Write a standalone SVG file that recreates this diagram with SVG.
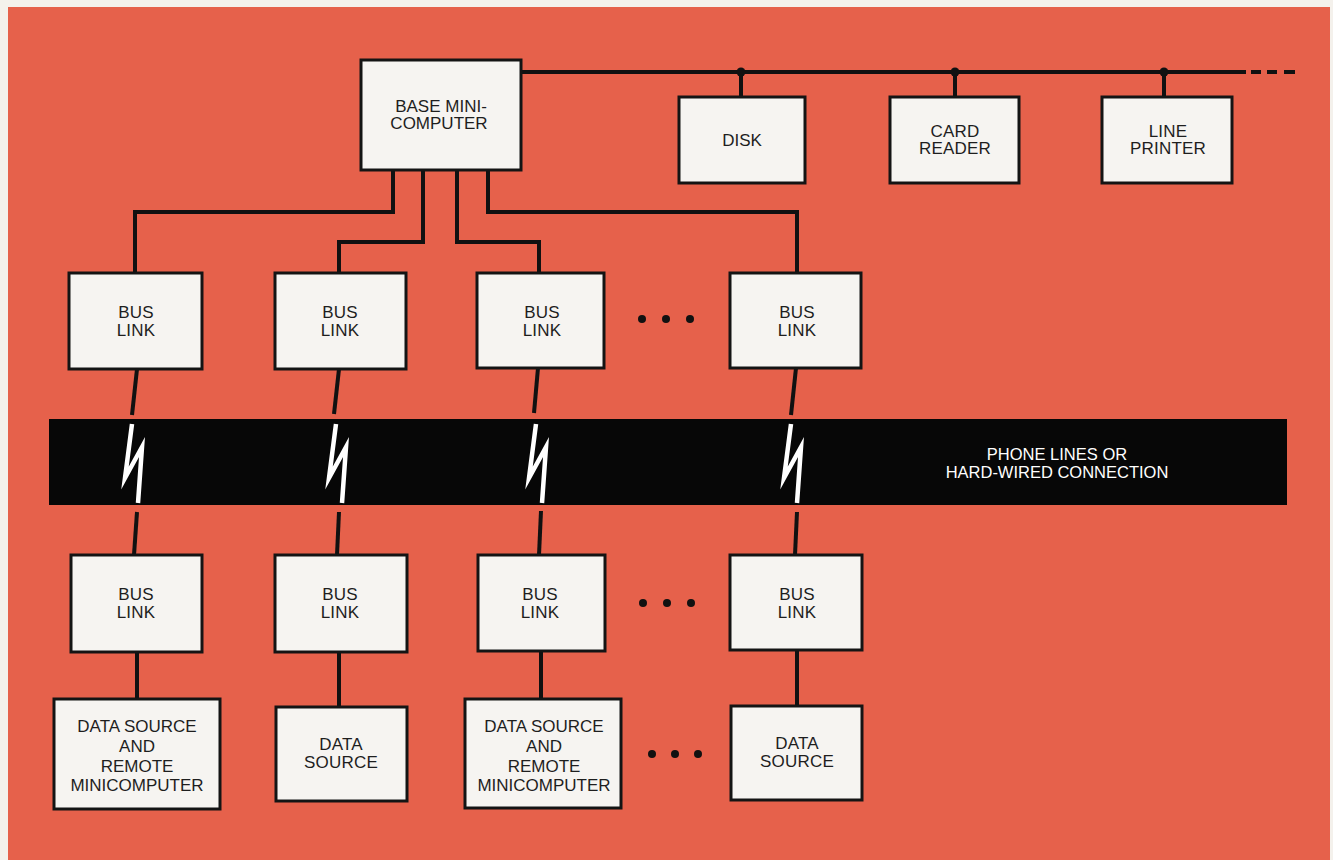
<svg xmlns="http://www.w3.org/2000/svg" xmlns:xlink="http://www.w3.org/1999/xlink" width="1333" height="860" viewBox="0 0 1333 860">
<style>
.box{fill:#F6F4F1;stroke:#141414;stroke-width:3}
.t{font-family:"Liberation Sans",Arial,Helvetica,sans-serif;font-size:17px;fill:#1E1E1E;text-anchor:middle}
.tw{font-family:"Liberation Sans",Arial,Helvetica,sans-serif;font-size:16.5px;fill:#FFFFFF;text-anchor:middle}
.ls{letter-spacing:0.2px}
.w{fill:none;stroke:#111;stroke-width:4;stroke-linejoin:miter;stroke-linecap:butt}
.dot{fill:#111}
.bolt{fill:none;stroke:#FFFFFF;stroke-width:4.5;stroke-linejoin:miter;stroke-miterlimit:10}
</style>
<defs>
<path id="bolt" d="M -4 424 L -11 478 L 6 447 L 2 503"/>
</defs>
<rect x="0" y="0" width="1333" height="860" fill="#F4F1EC"/>
<rect x="8" y="7" width="1322" height="853" fill="#E6614B"/>

<g id="connectors">
  <path class="w" d="M 522 72 L 1246 72"/>
  <path class="w" d="M 1251 72 L 1261 72 M 1267 72 L 1277 72 M 1284 72 L 1295 72"/>
  <path class="w" d="M 741 72 L 741 97 M 955 72 L 955 97 M 1164 72 L 1164 97"/>
  <circle class="dot" cx="741" cy="72" r="4.5"/>
  <circle class="dot" cx="955" cy="72" r="4.5"/>
  <circle class="dot" cx="1164" cy="72" r="4.5"/>
  <path class="w" d="M 393 170 L 393 212 L 135 212 L 135 273"/>
  <path class="w" d="M 423 170 L 423 242 L 339 242 L 339 273"/>
  <path class="w" d="M 457 170 L 457 242 L 539 242 L 539 273"/>
  <path class="w" d="M 488 170 L 488 212 L 797 212 L 797 273"/>
  <path class="w" d="M 137 369 L 132 415"/>
  <path class="w" d="M 339 369 L 334 414"/>
  <path class="w" d="M 538 368 L 534 413"/>
  <path class="w" d="M 796 368 L 791 415"/>
  <path class="w" d="M 137 512 L 134 555"/>
  <path class="w" d="M 339 512 L 337 555"/>
  <path class="w" d="M 541 511 L 539 555"/>
  <path class="w" d="M 797 512 L 795 555"/>
  <path class="w" d="M 137 652 L 137 699"/>
  <path class="w" d="M 339 652 L 339 707"/>
  <path class="w" d="M 541 651 L 541 699"/>
  <path class="w" d="M 797 650 L 797 706"/>
</g>

<g id="band">
  <rect x="49" y="419" width="1238" height="86" fill="#070707"/>
  <use xlink:href="#bolt" href="#bolt" class="bolt" transform="translate(136,0)"/>
  <use xlink:href="#bolt" href="#bolt" class="bolt" transform="translate(340,0)"/>
  <use xlink:href="#bolt" href="#bolt" class="bolt" transform="translate(540,0)"/>
  <use xlink:href="#bolt" href="#bolt" class="bolt" transform="translate(795,0)"/>
  <text class="tw" x="1057" y="460">PHONE LINES OR</text>
  <text class="tw" x="1057" y="478">HARD-WIRED CONNECTION</text>
</g>

<g id="base">
  <rect class="box" x="361" y="60" width="160" height="110"/>
  <text class="t" x="441" y="112">BASE MINI-</text>
  <text class="t" x="439" y="129">COMPUTER</text>
</g>
<g id="disk">
  <rect class="box" x="679" y="97" width="126" height="86"/>
  <text class="t" x="742" y="146">DISK</text>
</g>
<g id="card-reader">
  <rect class="box" x="890" y="97" width="129" height="86"/>
  <text class="t ls" x="955" y="137">CARD</text>
  <text class="t ls" x="955" y="154">READER</text>
</g>
<g id="line-printer">
  <rect class="box" x="1102" y="97" width="130" height="86"/>
  <text class="t ls" x="1168" y="137">LINE</text>
  <text class="t ls" x="1168" y="154">PRINTER</text>
</g>

<g id="buslink-top-1">
  <rect class="box" x="69" y="273" width="133" height="96"/>
  <text class="t ls" x="136" y="318">BUS</text>
  <text class="t ls" x="136" y="336">LINK</text>
</g>
<g id="buslink-top-2">
  <rect class="box" x="275" y="273" width="131" height="96"/>
  <text class="t ls" x="340" y="318">BUS</text>
  <text class="t ls" x="340" y="336">LINK</text>
</g>
<g id="buslink-top-3">
  <rect class="box" x="477" y="273" width="127" height="95"/>
  <text class="t ls" x="542" y="318">BUS</text>
  <text class="t ls" x="542" y="336">LINK</text>
</g>
<g id="buslink-top-4">
  <rect class="box" x="730" y="273" width="131" height="95"/>
  <text class="t ls" x="797" y="318">BUS</text>
  <text class="t ls" x="797" y="336">LINK</text>
</g>
<g id="ellipsis-1">
  <circle class="dot" cx="642" cy="319" r="4"/>
  <circle class="dot" cx="666" cy="319" r="4"/>
  <circle class="dot" cx="690" cy="319" r="4"/>
</g>

<g id="buslink-bottom-1">
  <rect class="box" x="71" y="555" width="131" height="97"/>
  <text class="t ls" x="136" y="600">BUS</text>
  <text class="t ls" x="136" y="618">LINK</text>
</g>
<g id="buslink-bottom-2">
  <rect class="box" x="275" y="555" width="132" height="97"/>
  <text class="t ls" x="340" y="600">BUS</text>
  <text class="t ls" x="340" y="618">LINK</text>
</g>
<g id="buslink-bottom-3">
  <rect class="box" x="478" y="555" width="127" height="96"/>
  <text class="t ls" x="540" y="600">BUS</text>
  <text class="t ls" x="540" y="618">LINK</text>
</g>
<g id="buslink-bottom-4">
  <rect class="box" x="730" y="555" width="132" height="95"/>
  <text class="t ls" x="797" y="600">BUS</text>
  <text class="t ls" x="797" y="618">LINK</text>
</g>
<g id="ellipsis-2">
  <circle class="dot" cx="643" cy="603" r="4"/>
  <circle class="dot" cx="667" cy="603" r="4"/>
  <circle class="dot" cx="691" cy="603" r="4"/>
</g>

<g id="datasource-1">
  <rect class="box" x="54" y="699" width="166" height="110"/>
  <text class="t" x="137" y="732">DATA SOURCE</text>
  <text class="t" x="137" y="752">AND</text>
  <text class="t" x="137" y="772">REMOTE</text>
  <text class="t" x="137" y="791">MINICOMPUTER</text>
</g>
<g id="datasource-2">
  <rect class="box" x="276" y="707" width="131" height="94"/>
  <text class="t ls" x="341" y="750">DATA</text>
  <text class="t ls" x="341" y="768">SOURCE</text>
</g>
<g id="datasource-3">
  <rect class="box" x="465" y="699" width="156" height="109"/>
  <text class="t" x="544" y="732">DATA SOURCE</text>
  <text class="t" x="544" y="752">AND</text>
  <text class="t" x="544" y="772">REMOTE</text>
  <text class="t" x="544" y="791">MINICOMPUTER</text>
</g>
<g id="datasource-4">
  <rect class="box" x="731" y="706" width="131" height="94"/>
  <text class="t ls" x="797" y="749">DATA</text>
  <text class="t ls" x="797" y="767">SOURCE</text>
</g>
<g id="ellipsis-3">
  <circle class="dot" cx="652" cy="754" r="4"/>
  <circle class="dot" cx="675" cy="754" r="4"/>
  <circle class="dot" cx="698" cy="754" r="4"/>
</g>
</svg>
